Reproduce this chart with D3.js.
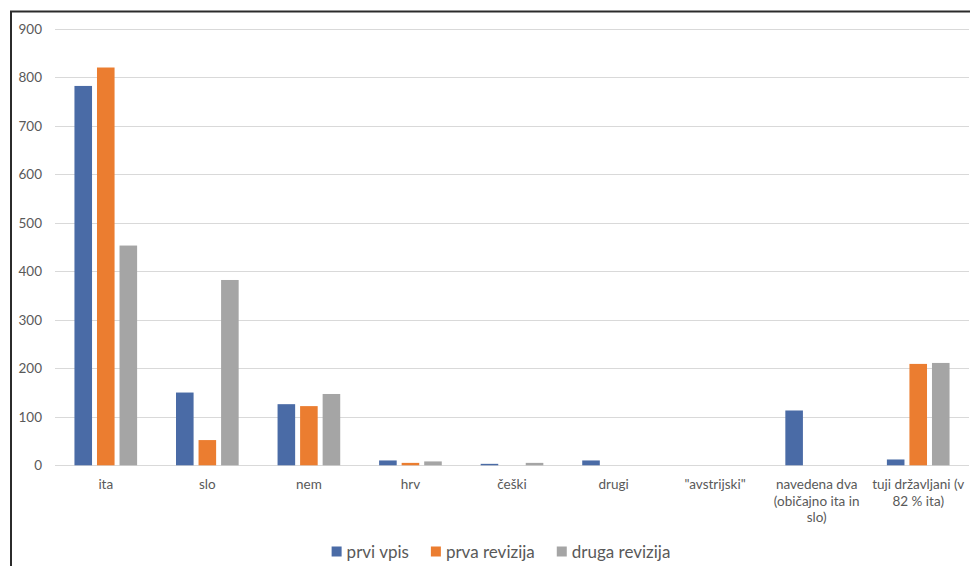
<!DOCTYPE html>
<html>
<head>
<meta charset="utf-8">
<script src="https://cdn.jsdelivr.net/npm/d3@7"></script>
<style>
  body { margin: 0; background: #fff; }
  svg { display: block; font-family: Lato, 'Open Sans', sans-serif; }
</style>
</head>
<body>
<div class="chart"></div>
<script>
// data
var categories = ['ita', 'slo', 'nem', 'hrv', 'češki', 'drugi', '"avstrijski"',
  'navedena dva (običajno ita in slo)', 'tuji državljani (v 82 % ita)']
var categoryLines = [['ita'], ['slo'], ['nem'], ['hrv'], ['češki'], ['drugi'], ['"avstrijski"'],
  ['navedena dva', '(običajno ita in', 'slo)'], ['tuji državljani (v', '82 % ita)']]
var seriesNames = ['prvi vpis', 'prva revizija', 'druga revizija']
var prviVpis = [782, 150, 126, 10, 3, 10, 0, 113, 12]
var prvaRevizija = [820, 52, 122, 5, 0, 0, 0, 0, 209]
var drugaRevizija = [453, 382, 147, 8, 5, 0, 0, 0, 211]
var yTicks = [0, 100, 200, 300, 400, 500, 600, 700, 800, 900]
var colors = ['#4a6ba6', '#eb7d30', '#a5a5a5']

;(function () {
  var W = 970
  var H = 566
  var series = [prviVpis, prvaRevizija, drugaRevizija]

  var svg = d3.select('.chart').append('svg')
    .attr('width', W)
    .attr('height', H)

  // chart frame (cropped on the right and bottom)
  svg.append('path')
    .attr('d', 'M11,' + (H + 2) + 'V11.5H' + (W + 2))
    .attr('fill', 'none')
    .attr('stroke', '#2b2b2b')
    .attr('stroke-width', 2)

  var x = d3.scaleBand()
    .domain(categories)
    .range([55, 969])
    .paddingInner(0.383)
    .paddingOuter(0.383 / 2)

  var xSub = d3.scaleBand()
    .domain(seriesNames)
    .range([0, x.bandwidth()])
    .paddingInner(0.22)

  var y = d3.scaleLinear()
    .domain([0, 900])
    .range([465.3, 28.7])

  // gridlines
  svg.append('g')
    .selectAll('line')
    .data(yTicks)
    .enter().append('line')
    .attr('x1', 55)
    .attr('x2', 969)
    .attr('y1', function (d) { return Math.round(y(d)) + 0.5 })
    .attr('y2', function (d) { return Math.round(y(d)) + 0.5 })
    .attr('stroke', '#d9d9d9')
    .attr('stroke-width', 1.2)

  // y axis labels
  var yAxis = svg.append('g')
    .attr('transform', 'translate(42,0)')
    .call(d3.axisLeft(y).tickValues(yTicks).tickSize(0).tickPadding(0))
  yAxis.select('.domain').remove()
  yAxis.selectAll('text')
    .attr('fill', '#595959')
    .style('font-size', '13.5px')
    .style('font-family', 'Lato, sans-serif')

  // bars
  series.forEach(function (values, s) {
    svg.append('g')
      .selectAll('rect')
      .data(values)
      .enter().append('rect')
      .attr('x', function (d, i) { return x(categories[i]) + xSub(seriesNames[s]) })
      .attr('y', function (d) { return y(d) })
      .attr('width', xSub.bandwidth())
      .attr('height', function (d) { return y(0) - y(d) })
      .attr('fill', colors[s])
  })

  // x axis labels (wrapped like the original)
  var xLabels = svg.append('g')
    .selectAll('text')
    .data(categories)
    .enter().append('text')
    .attr('text-anchor', 'middle')
    .attr('fill', '#595959')
    .style('font-size', '13.5px')
  xLabels.each(function (d, i) {
    var cx = x(d) + x.bandwidth() / 2
    d3.select(this).selectAll('tspan')
      .data(categoryLines[i])
      .enter().append('tspan')
      .attr('x', cx)
      .attr('y', function (l, k) { return 488.8 + k * 16.7 })
      .text(function (l) { return l })
  })

  // legend
  var legend = svg.append('g')
  var cursor = 0
  seriesNames.forEach(function (name, s) {
    var item = legend.append('g').attr('transform', 'translate(' + cursor + ',0)')
    item.append('rect')
      .attr('x', 0)
      .attr('y', -5)
      .attr('width', 10)
      .attr('height', 10)
      .attr('fill', colors[s])
    var t = item.append('text')
      .attr('x', 15)
      .attr('y', 6)
      .attr('fill', '#595959')
      .style('font-size', '17px')
      .text(name)
    cursor += 15 + t.node().getComputedTextLength() + 22
  })
  var legendWidth = cursor - 22
  legend.attr('transform', 'translate(' + (501 - legendWidth / 2) + ',551.5)')
})()
</script>
</body>
</html>
